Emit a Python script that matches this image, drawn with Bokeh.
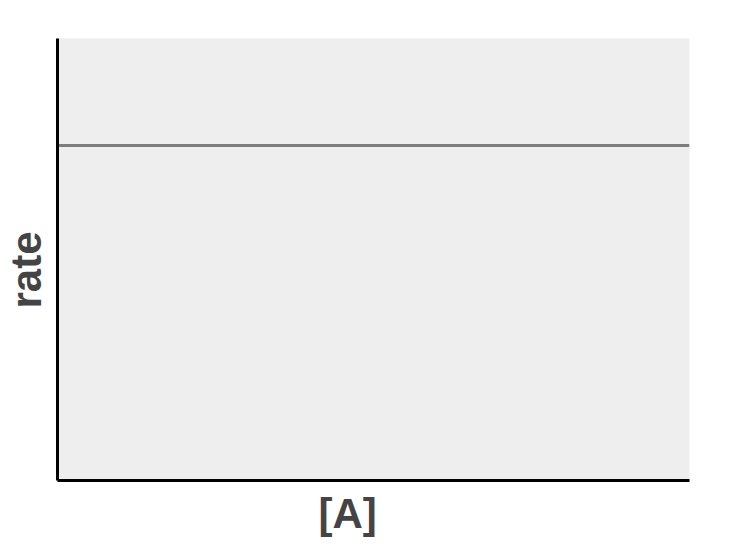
from bokeh.plotting import figure
from bokeh.models import Range1d, Title, FixedTicker
from bokeh.embed import file_html
from bokeh.resources import INLINE

# Data: zero-order reaction, rate independent of [A]
conc = [0.0, 1.0]
rate = [0.758, 0.758]
x_label = "[A]"
y_label = "rate"

p = figure(width=734, height=546, output_backend="svg", toolbar_location=None,
           x_range=Range1d(0, 1), y_range=Range1d(0, 1),
           min_border_left=57, min_border_right=45, min_border_top=38, min_border_bottom=66)
p.background_fill_color = "#eeeeee"
p.border_fill_color = "white"
p.outline_line_color = None
p.xgrid.visible = False
p.ygrid.visible = False

for ax in (p.xaxis[0], p.yaxis[0]):
    ax.ticker = FixedTicker(ticks=[])
    ax.axis_line_color = "black"
    ax.axis_line_width = 3
    ax.major_tick_line_color = None
    ax.minor_tick_line_color = None
    ax.major_label_text_font_size = "0px"

p.line(conc, rate, line_color="#7d7d7d", line_width=3)

font = "Liberation Sans"
p.add_layout(Title(text=x_label, align="left", offset=261, standoff=15,
                   text_font=font, text_font_size="42px", text_font_style="bold",
                   text_color="#444444"), "below")
# small spacer between the y axis line and its label
p.add_layout(Title(text=" ", standoff=4, text_font=font, text_font_size="1px",
                   text_color="white"), "left")
p.add_layout(Title(text=y_label, align="left", offset=172, standoff=0,
                   vertical_align="middle",
                   text_font=font, text_font_size="42px", text_font_style="bold",
                   text_color="#444444"), "left")

open("out.html", "w").write(file_html(p, INLINE))
